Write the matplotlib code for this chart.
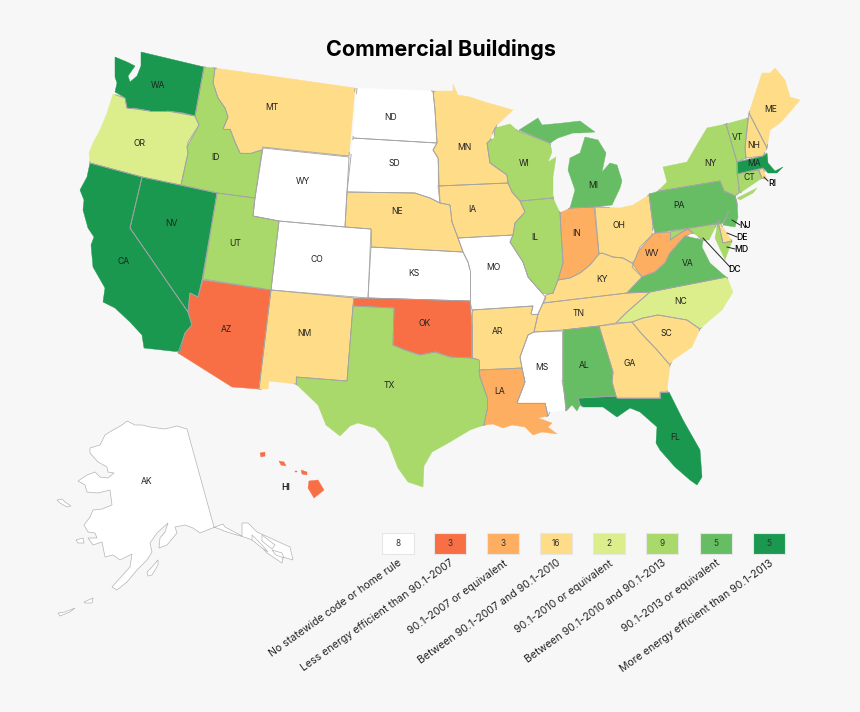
import matplotlib
matplotlib.use("Agg")
import matplotlib.pyplot as plt
import numpy as np
from matplotlib.collections import LineCollection
from matplotlib.patches import Polygon, Rectangle

plt.rcParams['font.family'] = ['Inter', 'DejaVu Sans']

# outlines of the states in pixels
WA = [(141,52),(204,67),(195,116),(183,113),(167,111),(150,111),(133,108),(127,108),(125,98),(115,92),(117,83),(115,77),(115,57),(127,62),(135,66),(128,76),(130,82),(137,76),(141,66)]
OR = [(113,94),(125,98),(127,108),(150,111),(167,111),(195,116),(199,125),(188,142),(187,147),(188,153),(181,185),(142,177),(90,163),(89,153),(93,143),(100,130),(107,113)]
ID = [(204,67),(215,68),(213,83),(218,98),(225,108),(228,117),(223,129),(230,129),(235,142),(240,153),(252,153),(262,150),(255,198),(217,193),(181,185),(188,153),(187,147),(199,125),(195,116)]
MT = [(215,68),(355,88),(349,156),(262,147),(262,150),(252,153),(240,153),(235,142),(230,129),(223,129),(228,117),(225,108),(218,98),(213,83)]
WY = [(263,148),(349,157),(345,227),(279,221),(253,216),(255,198)]
CA = [(90,163),(142,177),(130,228),(188,312),(192,325),(185,333),(180,352),(144,348),(142,335),(130,322),(115,308),(103,302),(105,288),(93,267),(91,245),(94,237),(88,228),(83,210),(84,200),(80,190),(87,177)]
NV = [(142,177),(217,193),(202,280),(198,297),(190,293),(188,312),(130,228)]
UT = [(217,193),(255,198),(253,216),(279,221),(271,290),(203,279)]
CO = [(279,221),(345,227),(371,229),(368,298),(271,290)]
AZ = [(203,280),(271,290),(259,389),(232,387),(178,353),(185,333),(192,325),(188,312),(190,293),(198,297)]
NM = [(271,290),(354,298),(353,306),(347,381),(296,377),(296,384),(269,381),(268,389),(259,389)]
TX = [(353,306),(394,308),(393,345),(405,350),(420,355),(435,352),(450,357),(472,358),(479,360),(479,370),(480,377),(487,397),(487,410),(484,425),(470,430),(450,442),(432,452),(424,466),(423,487),(408,482),(398,468),(388,442),(375,428),(358,423),(350,426),(340,436),(326,425),(318,405),(296,384),(296,377),(347,381)]
OK = [(354,298),(368,298),(470,301),(472,325),(472,358),(450,357),(435,352),(420,355),(405,350),(393,345),(394,308),(353,306)]
KS = [(371,247),(463,252),(468,262),(470,270),(470,301),(368,298)]
NE = [(347,192),(415,193),(430,198),(440,203),(450,205),(452,222),(458,238),(463,252),(371,247),(371,229),(345,227)]
SD = [(353,138),(437,143),(433,150),(438,158),(440,203),(430,198),(415,193),(347,192)]
ND = [(357,88),(433,91),(435,110),(437,143),(353,138)]
MN = [(433,91),(453,91),(453,84),(458,95),(470,97),(485,102),(513,110),(497,125),(494,130),(490,140),(487,143),(490,163),(507,175),(508,183),(438,186),(438,158),(433,150),(437,143),(435,110)]
IA = [(438,186),(508,183),(512,192),(520,201),(525,212),(515,223),(513,235),(458,238),(452,222),(450,205),(440,203)]
MO = [(458,238),(513,235),(510,242),(523,262),(528,277),(542,293),(546,298),(543,303),(538,314),(531,314),(533,306),(472,310),(470,301),(470,270),(468,262),(463,252)]
AR = [(472,310),(533,306),(531,314),(538,314),(534,332),(528,335),(520,357),(522,368),(479,370),(479,360),(472,358)]
LA = [(479,370),(522,368),(525,382),(517,403),(545,403),(548,416),(538,418),(552,423),(548,427),(557,434),(542,432),(533,435),(525,427),(512,425),(503,428),(493,424),(484,425),(487,410),(487,397),(480,377)]
MS = [(528,335),(534,332),(562,331),(562,380),(567,410),(550,412),(548,416),(545,403),(517,403),(525,382),(522,368),(520,357)]
AL = [(563,330),(599,326),(613,372),(612,382),(616,396),(578,398),(580,405),(577,411),(572,405),(566,411),(563,380)]
GA = [(599,326),(632,322),(640,332),(657,350),(670,365),(668,382),(667,392),(660,392),(660,398),(617,398),(616,396),(612,382),(613,372)]
SC = [(632,322),(643,318),(658,315),(687,320),(700,329),(692,347),(673,360),(670,365),(657,350),(640,332)]
NC = [(650,292),(727,277),(733,292),(722,310),(710,320),(700,329),(687,320),(658,315),(643,318),(632,322),(616,323),(627,312)]
TN = [(534,332),(538,314),(543,303),(552,302),(627,293),(650,292),(627,312),(616,323),(599,326),(563,330)]
KY = [(546,295),(553,293),(558,280),(570,278),(580,273),(590,265),(599,254),(602,253),(613,257),(623,258),(632,263),(642,277),(627,293),(552,302),(543,303)]
IN = [(560,213),(570,208),(594,207),(599,254),(590,265),(580,273),(570,278),(558,280),(563,263)]
IL = [(520,201),(553,198),(560,213),(563,263),(558,280),(553,293),(542,293),(528,277),(523,262),(510,242),(513,235),(515,223),(525,212)]
WI = [(495,128),(510,124),(518,131),(550,143),(552,152),(548,162),(556,157),(553,177),(553,198),(520,201),(512,192),(508,183),(507,175),(490,163),(487,143),(494,138)]
MI_UP = [(519,130),(538,118),(542,125),(563,123),(580,121),(595,132),(580,133),(573,133),(558,138),(550,143)]
MI_LP = [(570,208),(594,207),(612,205),(620,188),(622,181),(617,165),(610,163),(602,172),(606,153),(598,140),(585,137),(580,153),(570,158),(568,170),(575,190)]
OH = [(595,207),(620,208),(633,205),(649,195),(653,225),(652,235),(640,247),(635,260),(632,263),(623,258),(613,257),(602,253),(599,254)]
WV = [(655,233),(670,232),(670,240),(682,232),(688,229),(693,233),(685,236),(670,253),(665,263),(655,272),(642,277),(632,267),(638,252),(652,235)]
VA = [(642,277),(655,272),(665,263),(670,253),(685,236),(703,240),(702,247),(710,263),(726,277),(650,292),(627,293)]
PA = [(649,194),(660,191),(720,181),(724,191),(735,196),(737,203),(728,213),(723,223),(655,233),(653,225)]
NY = [(658,191),(667,182),(663,167),(687,162),(695,148),(707,128),(726,124),(737,162),(739,193),(735,196),(724,191),(720,181),(660,191)]
NY_LI = [(737,198),(757,188),(753,193),(740,200)]
VT = [(726,124),(748,118),(745,148),(746,158),(737,162)]
NH = [(749,113),(767,148),(763,156),(746,158),(745,148)]
ME = [(749,113),(762,73),(770,73),(775,68),(785,80),(790,97),(800,100),(790,112),(780,123),(770,130),(767,148)]
MA = [(737,162),(763,156),(767,153),(768,163),(775,171),(783,167),(777,173),(768,173),(763,168),(737,174)]
CT = [(737,174),(758,170),(762,178),(740,193)]
RI = [(759,170),(763,168),(767,180),(762,178)]
NJ = [(724,191),(735,196),(737,203),(738,217),(735,227),(723,225),(728,213),(722,200)]
DE = [(718,220),(732,241),(723,243)]
MD = [(670,232),(717,223),(713,232),(709,240),(703,240),(688,229),(682,232),(670,240)]
MD_ES = [(718,222),(723,243),(732,241),(725,260),(715,238)]
FL = [(578,398),(616,396),(617,398),(660,398),(660,392),(669,392),(683,420),(700,450),(702,477),(697,485),(690,480),(675,467),(660,450),(656,443),(657,427),(640,412),(630,408),(617,417),(603,407),(583,407),(580,405)]
HI_BIG = [(309,481),(318,480),(324,490),(314,498),(308,488)]
HI_MAUI = [(301,470),(307,472),(307,475),(302,474)]
HI_MOLOKAI = [(295,471),(297,471),(297,472),(295,472)]
HI_OAHU = [(279,461),(284,462),(286,466),(281,465)]
HI_KAUAI = [(260,453),(265,452),(265,456),(261,457)]
AK = [(187,429),(177,426),(165,429),(150,427),(142,425),(135,425),(127,421),(122,425),(113,430),(105,435),(100,445),(90,448),(90,453),(98,462),(107,467),(108,472),(114,473),(108,478),(100,477),(95,472),(87,475),(78,481),(85,485),(87,492),(98,493),(110,490),(112,505),(102,509),(93,510),(90,517),(84,525),(88,532),(95,533),(97,538),(88,538),(93,545),(102,542),(105,557),(113,555),(120,560),(132,554),(130,567),(120,578),(112,587),(117,590),(127,582),(137,570),(147,560),(152,552),(150,543),(157,533),(168,523),(165,532),(160,538),(159,548),(167,545),(177,533),(175,527),(185,525),(193,528),(200,533),(215,527),(223,524),(225,527),(242,536),(242,523),(248,523),(257,532),(290,547),(293,560),(283,557),(282,563),(267,553),(257,542),(247,538),(227,532),(214,527)]
AK_KODIAK = [(147,572),(152,567),(158,560),(158,565),(152,575),(148,576)]
AK_STLAWRENCE = [(57,500),(62,499),(65,502),(71,506),(67,507),(60,503)]
AK_NUNIVAK = [(76,540),(83,538),(84,543),(78,543)]
AK_UNIMAK = [(84,602),(93,598),(92,603),(85,603)]
AK_ALEUTIAN = [(58,613),(65,612),(75,608),(70,612),(60,616)]
AK_ISLE1 = [(252,535),(262,545),(268,552),(262,548),(252,540)]
AK_ISLE2 = [(262,535),(275,545),(272,549),(262,541)]
AK_ISLE3 = [(272,550),(282,553),(284,558),(276,555)]

# rating class of every state, index into the legend below
class_0 = [[ND], [SD], [WY], [CO], [KS], [MO], [MS]]
class_1 = [[AZ], [OK], [HI_BIG, HI_MAUI, HI_MOLOKAI, HI_OAHU, HI_KAUAI]]
class_2 = [[IN], [WV], [LA]]
class_3 = [[MT], [NE], [MN], [IA], [NM], [AR], [OH], [KY], [TN], [GA], [SC], [ME], [NH], [RI], [DE]]
class_4 = [[OR], [NC]]
class_5 = [[ID], [UT], [TX], [WI], [IL], [NY, NY_LI], [VT], [CT], [MD, MD_ES]]
class_6 = [[AL], [MI_UP, MI_LP], [PA], [VA], [NJ]]
class_7 = [[WA], [CA], [NV], [FL], [MA]]
alaska = [AK, AK_KODIAK, AK_STLAWRENCE, AK_NUNIVAK, AK_UNIMAK, AK_ALEUTIAN, AK_ISLE1, AK_ISLE2, AK_ISLE3]

legend_colors = ['#ffffff', '#f96f45', '#fdae61', '#fedc88', '#dbee8b', '#a8d96a', '#66bd63', '#1a9850']
legend_counts = [8, 3, 3, 16, 2, 9, 5, 5]
legend_labels = ['No statewide code or home rule', 'Less energy efficient than 90.1-2007',
                 '90.1-2007 or equivalent', 'Between 90.1-2007 and 90.1-2010',
                 '90.1-2010 or equivalent', 'Between 90.1-2010 and 90.1-2013',
                 '90.1-2013 or equivalent', 'More energy efficient than 90.1-2013']

state_labels = {'WA': (158,85), 'OR': (139,144), 'ID': (215,158), 'MT': (272,107), 'WY': (303,182),
                'CA': (124,261), 'NV': (171,224), 'UT': (235,244), 'CO': (317,259), 'AZ': (226,330),
                'NM': (304,334), 'ND': (391,118), 'SD': (394,164), 'NE': (397,212), 'KS': (414,274),
                'OK': (425,323), 'TX': (389,386), 'MN': (464,147), 'IA': (472,209), 'MO': (493,267),
                'AR': (497,331), 'LA': (500,391), 'WI': (524,164), 'IL': (535,237), 'MI': (593,185),
                'IN': (577,234), 'OH': (619,226), 'KY': (602,280), 'TN': (579,314), 'MS': (542,368),
                'AL': (584,366), 'GA': (630,364), 'FL': (675,437), 'SC': (666,334), 'NC': (681,301),
                'VA': (688,263), 'WV': (652,254), 'PA': (679,206), 'NY': (710,164), 'VT': (737,137),
                'NH': (754,145), 'ME': (771,110), 'MA': (754,164), 'CT': (749,178), 'AK': (147,481)}
# these sit outside their state, with a leader line for most of them
outer_labels = {'NJ': (745,225), 'DE': (742,238), 'MD': (741,250), 'DC': (735,269), 'RI': (772,183), 'HI': (286,487)}
leaders = {'NJ': (732,220,740,225), 'DE': (727,233,737,237), 'MD': (727,247,735,249),
           'DC': (703,238,730,267), 'RI': (764,177,768,181)}


def dense(part):
    # split the outline into short pieces, 2 px or so
    pts = np.array(part + [part[0]], dtype=float)
    out = []
    for a, b in zip(pts[:-1], pts[1:]):
        n = max(int(np.hypot(*(b - a)) / 2), 1)
        for i in range(n):
            out.append(a + (b - a) * i / n)
    out.append(pts[-1])
    return np.array(out)


fig = plt.figure(figsize=(8.6, 7.12), dpi=100, facecolor='#f7f7f7')
ax = fig.add_axes([0, 0, 1, 1])
ax.set_xlim(0, 860)
ax.set_ylim(712, 0)
ax.axis('off')

classes = [class_0, class_1, class_2, class_3, class_4, class_5, class_6, class_7]
outlines = []
for cls, states in enumerate(classes):
    for parts in states:
        for part in parts:
            ax.add_patch(Polygon(part, closed=True, facecolor=legend_colors[cls],
                                 edgecolor=legend_colors[cls], linewidth=0.3))
            outlines.append(dense(part))

# grey only where two states touch, the coasts stay without a line
segments = []
for i, line in enumerate(outlines):
    others = np.vstack([o for j, o in enumerate(outlines) if j != i])
    for a, b in zip(line[:-1], line[1:]):
        mid = (a + b) / 2
        if np.min(np.hypot(others[:, 0] - mid[0], others[:, 1] - mid[1])) < 2.2:
            segments.append([a, b])
ax.add_collection(LineCollection(segments, colors='#a4a4a4', linewidths=0.6))

for part in alaska:
    ax.add_patch(Polygon(part, closed=True, facecolor='white', edgecolor='#b4b4b4', linewidth=0.5))

for name, (x, y) in state_labels.items():
    ax.text(x, y, name, fontsize=6.2, ha='center', va='center', color='#222222')
for name, (x, y) in outer_labels.items():
    ax.text(x, y, name, fontsize=6.2, ha='center', va='center', color='black', fontweight='medium')
for x0, y0, x1, y1 in leaders.values():
    ax.plot([x0, x1], [y0, y1], color='#222222', linewidth=0.7)

ax.text(441, 50, 'Commercial Buildings', fontsize=15.5, fontweight='bold', ha='center', va='center', color='black')

# legend boxes and the slanted captions under them
box_x = [382, 434, 487, 540, 593, 646, 700, 753]
for x, color, count, label in zip(box_x, legend_colors, legend_counts, legend_labels):
    ax.add_patch(Rectangle((x, 533), 32, 21, facecolor=color, edgecolor='#e6e6e6', linewidth=0.8))
    ax.text(x + 16, 543.5, str(count), fontsize=6, ha='center', va='center', color='#333333')
    ax.text(x + 16, 558, label, fontsize=7.6, rotation=35.5, rotation_mode='anchor',
            ha='right', va='top', color='#222222')

fig.savefig('out.png', dpi=100, facecolor=fig.get_facecolor())
